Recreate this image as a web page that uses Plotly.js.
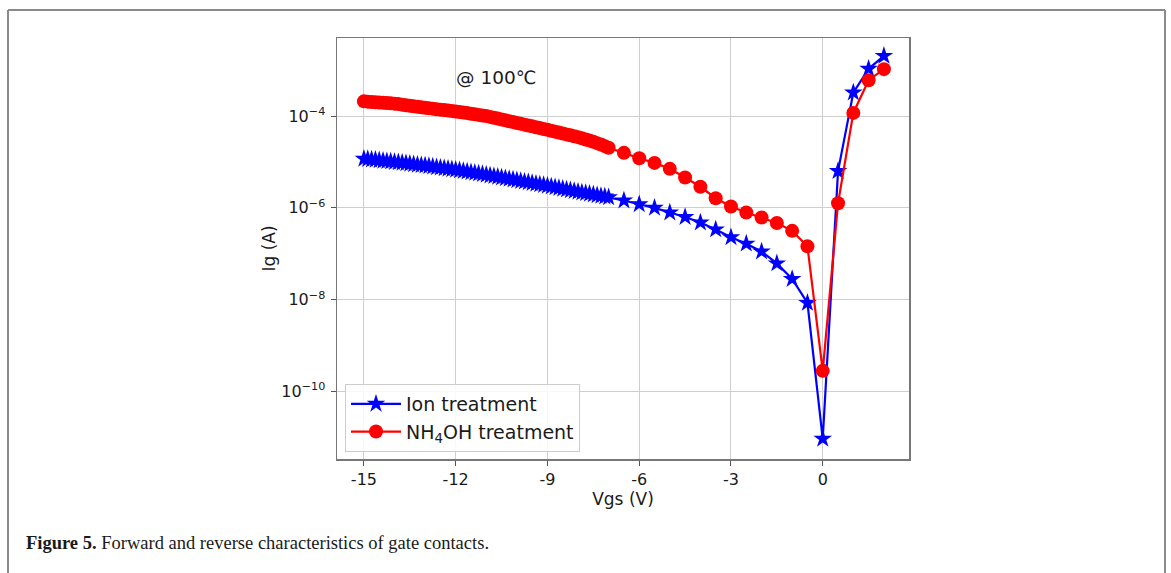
<!DOCTYPE html>
<html>
<head>
<meta charset="utf-8">
<script src="https://cdn.plot.ly/plotly-3.0.1.min.js"></script>
<style>
html,body{margin:0;padding:0;background:#fff;}
#chart{width:1171px;height:573px;}
</style>
</head>
<body>
<div id="chart"></div>
<script>
// Gate voltage (V)
const vgs = [
  -15,-14.875,-14.75,-14.625,-14.5,-14.375,-14.25,-14.125,
  -14,-13.875,-13.75,-13.625,-13.5,-13.375,-13.25,-13.125,
  -13,-12.875,-12.75,-12.625,-12.5,-12.375,-12.25,-12.125,
  -12,-11.875,-11.75,-11.625,-11.5,-11.375,-11.25,-11.125,
  -11,-10.875,-10.75,-10.625,-10.5,-10.375,-10.25,-10.125,
  -10,-9.875,-9.75,-9.625,-9.5,-9.375,-9.25,-9.125,
  -9,-8.875,-8.75,-8.625,-8.5,-8.375,-8.25,-8.125,
  -8,-7.875,-7.75,-7.625,-7.5,-7.375,-7.25,-7.125,
  -7,-6.5,-6,-5.5,-5,-4.5,-4,-3.5,-3,-2.5,-2,-1.5,-1,-0.5,0,0.5,1,1.5,2];

// Gate current (A) - Ion treatment
const ionIg = [
  1.17e-5,1.15e-5,1.13e-5,1.11e-5,1.08e-5,1.06e-5,1.04e-5,1.02e-5,
  1.00e-5,9.77e-6,9.55e-6,9.33e-6,9.12e-6,8.91e-6,8.71e-6,8.51e-6,
  8.32e-6,8.11e-6,7.90e-6,7.69e-6,7.50e-6,7.31e-6,7.12e-6,6.93e-6,
  6.76e-6,6.55e-6,6.35e-6,6.15e-6,5.96e-6,5.77e-6,5.59e-6,5.42e-6,
  5.25e-6,5.07e-6,4.90e-6,4.73e-6,4.57e-6,4.42e-6,4.27e-6,4.12e-6,
  3.98e-6,3.85e-6,3.72e-6,3.59e-6,3.47e-6,3.35e-6,3.24e-6,3.13e-6,
  3.02e-6,2.91e-6,2.80e-6,2.70e-6,2.60e-6,2.51e-6,2.41e-6,2.32e-6,
  2.24e-6,2.16e-6,2.09e-6,2.02e-6,1.95e-6,1.88e-6,1.82e-6,1.76e-6,
  1.70e-6,1.45e-6,1.20e-6,1.00e-6,7.94e-7,6.31e-7,4.79e-7,3.39e-7,2.29e-7,1.66e-7,1.12e-7,6.17e-8,2.82e-8,8.51e-9,
  9.33e-12,6.31e-6,3.24e-4,1.07e-3,2.04e-3];

// Gate current (A) - NH4OH treatment
const nh4ohIg = [
  2.09e-4,2.06e-4,2.03e-4,2.00e-4,1.98e-4,1.95e-4,1.92e-4,1.89e-4,
  1.86e-4,1.82e-4,1.77e-4,1.72e-4,1.68e-4,1.64e-4,1.60e-4,1.55e-4,
  1.51e-4,1.48e-4,1.45e-4,1.41e-4,1.38e-4,1.35e-4,1.32e-4,1.29e-4,
  1.26e-4,1.22e-4,1.19e-4,1.16e-4,1.12e-4,1.09e-4,1.06e-4,1.03e-4,
  1.00e-4,9.57e-5,9.17e-5,8.79e-5,8.41e-5,8.05e-5,7.72e-5,7.40e-5,
  7.08e-5,6.78e-5,6.49e-5,6.22e-5,5.96e-5,5.70e-5,5.46e-5,5.24e-5,
  5.01e-5,4.79e-5,4.57e-5,4.37e-5,4.17e-5,3.98e-5,3.80e-5,3.63e-5,
  3.47e-5,3.27e-5,3.09e-5,2.92e-5,2.75e-5,2.57e-5,2.40e-5,2.21e-5,
  2.04e-5,1.58e-5,1.20e-5,9.55e-6,7.08e-6,4.57e-6,2.88e-6,1.62e-6,1.07e-6,7.94e-7,6.17e-7,4.68e-7,3.16e-7,1.45e-7,
  2.82e-10,1.26e-6,1.17e-4,6.03e-4,1.05e-3];

const xTickVals = [-15,-12,-9,-6,-3,0];
const xTickText = ['-15','-12','-9','-6','-3','0'];
const yTickVals = [1e-4,1e-6,1e-8,1e-10];
const yTickText = ['10<sup>\u22124</sup>','10<sup>\u22126</sup>','10<sup>\u22128</sup>','10<sup>\u221210</sup>'];

const seriesNames = ['Ion treatment','NH<sub>4</sub>OH treatment'];

const FONT = 'DejaVu Sans, sans-serif';

const traces = [
  {
    x: vgs, y: ionIg, name: seriesNames[0], type: 'scatter', mode: 'lines+markers',
    line: {color: '#0000ff', width: 2.2},
    marker: {symbol: 'star', size: 14, color: '#0000ff'}
  },
  {
    x: vgs, y: nh4ohIg, name: seriesNames[1], type: 'scatter', mode: 'lines+markers',
    line: {color: '#ff0000', width: 2.2},
    marker: {symbol: 'circle', size: 14, color: '#ff0000'}
  }
];

// plot area pixel box
const L = 337, R = 909, T = 38, B = 459, W = 1171, H = 573;
const pw = R - L, ph = B - T;
const px = v => (v - L) / pw;
const py = v => (B - v) / ph;

const layout = {
  width: W, height: H,
  margin: {l: L, r: W - R, t: T, b: H - B, pad: 0},
  paper_bgcolor: '#ffffff',
  plot_bgcolor: '#ffffff',
  showlegend: true,
  hovermode: false,
  font: {family: FONT, color: '#1a1a1a', size: 16},
  xaxis: {
    range: [-15.88, 2.82],
    tickmode: 'array', tickvals: xTickVals, ticktext: xTickText,
    ticks: 'outside', ticklen: 5, tickcolor: '#555', tickwidth: 1,
    showgrid: true, gridcolor: '#cfcfcf', gridwidth: 1,
    zeroline: false,
    showline: true, linecolor: '#777', linewidth: 1.5, mirror: true,
    tickfont: {family: FONT, size: 16, color: '#1a1a1a'},
    title: {text: 'Vgs (V)', font: {family: FONT, size: 17, color: '#1a1a1a'}, standoff: 4}
  },
  yaxis: {
    type: 'log',
    range: [-11.47, -2.30],
    tickmode: 'array', tickvals: yTickVals, ticktext: yTickText,
    ticks: 'outside', ticklen: 5, tickcolor: '#555', tickwidth: 1,
    ticklabelstandoff: 2,
    showgrid: true, gridcolor: '#cfcfcf', gridwidth: 1,
    zeroline: false,
    showline: true, linecolor: '#777', linewidth: 1.5, mirror: true,
    tickfont: {family: FONT, size: 16, color: '#1a1a1a'},
    title: {text: 'Ig (A)', font: {family: FONT, size: 17, color: '#1a1a1a'}, standoff: 1}
  },
  legend: {
    x: px(345), y: py(384), xanchor: 'left', yanchor: 'top',
    bgcolor: 'rgba(255,255,255,0.85)', bordercolor: '#cccccc', borderwidth: 1,
    font: {family: FONT, size: 19, color: '#1a1a1a'},
    itemwidth: 50, tracegroupgap: 0
  },
  annotations: [
    {xref: 'paper', yref: 'paper', x: px(496), y: py(77), xanchor: 'center', yanchor: 'middle',
     text: '@ 100\u2103', showarrow: false, font: {family: FONT, size: 18.5, color: '#1a1a1a'}},
    {xref: 'paper', yref: 'paper', x: px(24), y: py(543), xanchor: 'left', yanchor: 'middle',
     text: '<b>Figure 5.</b> Forward and reverse characteristics of gate contacts.',
     showarrow: false, font: {family: 'Liberation Serif, serif', size: 18.5, color: '#1a1a1a'}}
  ],
  shapes: [
    {type: 'line', xref: 'paper', yref: 'paper', x0: px(8), x1: px(8), y0: py(10), y1: py(590), line: {color: '#8a8a8a', width: 2}},
    {type: 'line', xref: 'paper', yref: 'paper', x0: px(8), x1: px(1165), y0: py(10), y1: py(10), line: {color: '#8a8a8a', width: 2}},
    {type: 'line', xref: 'paper', yref: 'paper', x0: px(1165), x1: px(1165), y0: py(10), y1: py(590), line: {color: '#8a8a8a', width: 2}}
  ]
};

Plotly.newPlot('chart', traces, layout, {displayModeBar: false, staticPlot: true});
</script>
</body>
</html>
